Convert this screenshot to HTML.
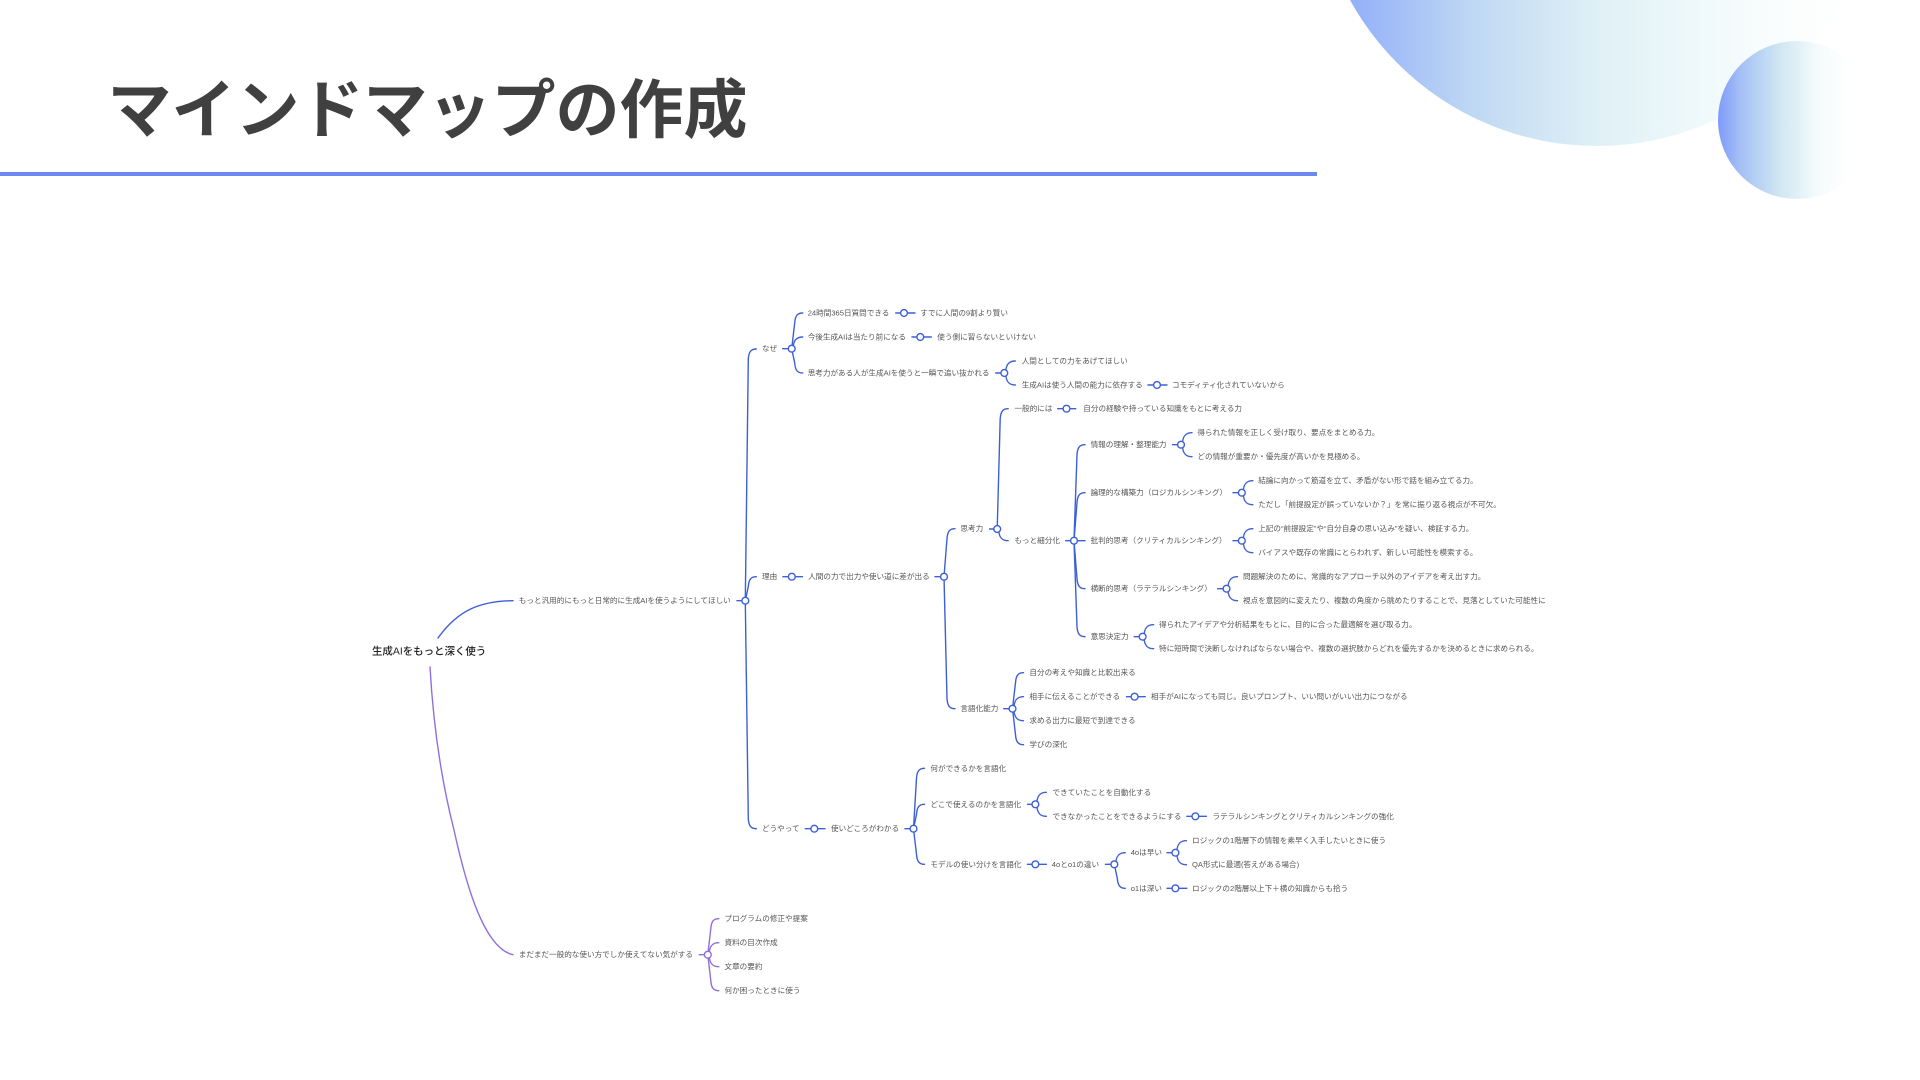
<!DOCTYPE html>
<html lang="ja">
<head>
<meta charset="utf-8">
<title>マインドマップの作成</title>
<style>
html,body{margin:0;padding:0;background:#fff}
body{width:1920px;height:1080px;overflow:hidden;position:relative}
svg{position:absolute;left:0;top:0;display:block}
text{font-family:"Liberation Sans","Noto Sans CJK JP",sans-serif}
.t{filter:blur(.25px)}
.t text{font-size:7.6px;fill:#555;dominant-baseline:central}
.b path{fill:none;stroke:#3d5fd6;stroke-width:1.4;stroke-linecap:round}
.b circle{fill:#fff;stroke:#3d5fd6;stroke-width:1.4}
.p path{fill:none;stroke:#8f6fdc;stroke-width:1.4;stroke-linecap:round}
.p circle{fill:#fff;stroke:#8f6fdc;stroke-width:1.4}
</style>
</head>
<body>
<svg width="1920" height="1080" viewBox="0 0 1920 1080" xmlns="http://www.w3.org/2000/svg">
<defs>
<linearGradient id="g1" gradientUnits="userSpaceOnUse" x1="1315" y1="0" x2="1879" y2="0">
<stop offset="0" stop-color="#86a4fb"/><stop offset=".28" stop-color="#bfd8f3"/><stop offset=".5" stop-color="#dff0f6"/><stop offset=".69" stop-color="#f0f9fb"/><stop offset=".85" stop-color="#fcfefe"/><stop offset="1" stop-color="#fff"/>
</linearGradient>
<linearGradient id="g2" gradientUnits="userSpaceOnUse" x1="1718" y1="0" x2="1876" y2="0">
<stop offset="0" stop-color="#7f9bfb"/><stop offset=".145" stop-color="#a5c0f5"/><stop offset=".386" stop-color="#cfe6f2"/><stop offset=".63" stop-color="#f5fbfc"/><stop offset=".84" stop-color="#fff"/>
</linearGradient>
</defs>

<circle cx="1597" cy="-136" r="282" fill="url(#g1)"/>
<circle cx="1797" cy="120" r="79" fill="url(#g2)"/>

<text x="107.5" y="132.5" font-size="64" font-weight="700" fill="#404040" style="font-family:'Noto Sans CJK JP',sans-serif">マインドマップの作成</text>
<rect x="0" y="172" width="1317" height="4" fill="#6a88ee"/>

<g class="b">
<path d="M438 638C458 610 480 601 513 600.7"/>
<!-- stubs and forks -->
<path d="M737 600.7H745.3"/>
<path d="M745.3 600.7l3-241.7c.5-7 2.5-10 8-10"/>
<path d="M745.3 600.7l3-14c.5-7 2.5-10 8-10"/>
<path d="M745.3 600.7l3 218c.5 7 2.5 10 8 10"/>

<path d="M782.7 348.7H791.7"/>
<path d="M791.7 348.7l3-25.7c.5-7 2.5-10 8-10"/>
<path d="M791.7 348.7l1.5-1.7c.5-7 3.5-10 9.5-10"/>
<path d="M791.7 348.7l3 14.3c.5 7 2.5 10 8 10"/>
<path d="M895.7 313H915"/>
<path d="M912 337H931.3"/>

<path d="M995.7 373H1004.3"/>
<path d="M1004.3 373l1.5-2c.5-7 3.5-10 9.5-10"/>
<path d="M1004.3 373l1.5 2c.5 7 3.5 10 9.5 10"/>
<path d="M1148 385H1167"/>

<path d="M782.9 576.7H802.4"/>
<path d="M935 576.7H944"/>
<path d="M944 576.7l3-38c.5-7 2.5-10 8-10"/>
<path d="M944 576.7l3 122c.5 7 2.5 10 8 10"/>

<path d="M989.6 529H997.2"/>
<path d="M997.2 529l3-110.3c.5-7 2.5-10 8-10"/>
<path d="M997.2 529l1.5 1.7c.5 7 3.5 10 9.5 10"/>
<path d="M1057.7 408.7H1075.7"/>

<path d="M1065.7 540.7H1085"/>
<path d="M1074 540.7l3-86c.5-7 2.5-10 8-10"/>
<path d="M1074 540.7l3-38c.5-7 2.5-10 8-10"/>
<path d="M1074 540.7l3 38c.5 7 2.5 10 8 10"/>
<path d="M1074 540.7l3 86c.5 7 2.5 10 8 10"/>

<path d="M1172.5 444.7H1181"/>
<path d="M1181 444.7l1.5-2c.5-7 3.5-10 9.5-10"/>
<path d="M1181 444.7l1.5 2c.5 7 3.5 10 9.5 10"/>

<path d="M1233 492.7H1241.8"/>
<path d="M1241.8 492.7l1.5-2c.5-7 3.5-10 9.5-10"/>
<path d="M1241.8 492.7l1.5 2c.5 7 3.5 10 9.5 10"/>

<path d="M1233 540.7H1241.8"/>
<path d="M1241.8 540.7l1.5-2c.5-7 3.5-10 9.5-10"/>
<path d="M1241.8 540.7l1.5 2c.5 7 3.5 10 9.5 10"/>

<path d="M1217.7 588.7H1226.5"/>
<path d="M1226.5 588.7l1.5-2c.5-7 3.5-10 9.5-10"/>
<path d="M1226.5 588.7l1.5 2c.5 7 3.5 10 9.5 10"/>

<path d="M1134.2 636.7H1142.6"/>
<path d="M1142.6 636.7l1.5-2c.5-7 3.5-10 9.5-10"/>
<path d="M1142.6 636.7l1.5 2c.5 7 3.5 10 9.5 10"/>

<path d="M1003.7 708.7H1012.5"/>
<path d="M1012.5 708.7l3-26c.5-7 2.5-10 8-10"/>
<path d="M1012.5 708.7l1.5-2c.5-7 3.5-10 9.5-10"/>
<path d="M1012.5 708.7l1.5 2c.5 7 3.5 10 9.5 10"/>
<path d="M1012.5 708.7l3 26c.5 7 2.5 10 8 10"/>
<path d="M1126.6 696.7H1145.3"/>

<path d="M805.3 828.7H825"/>
<path d="M905 828.7H913.5"/>
<path d="M913.5 828.7l3-50.4c.5-7 2.5-10 8-10"/>
<path d="M913.5 828.7l3-14.4c.5-7 2.5-10 8-10"/>
<path d="M913.5 828.7l3 25.6c.5 7 2.5 10 8 10"/>

<path d="M1027.5 804.3H1035.4"/>
<path d="M1035.4 804.3l1.5-2c.5-7 3.5-10 9.5-10"/>
<path d="M1035.4 804.3l1.5 2c.5 7 3.5 10 9.5 10"/>
<path d="M1186.8 816.3H1206.4"/>

<path d="M1027.5 864.3H1046.4"/>
<path d="M1105.4 864.3H1114.3"/>
<path d="M1114.3 864.3l1.5-1.6c.5-7 3.5-10 9.5-10"/>
<path d="M1114.3 864.3l3 14c.5 7 2.5 10 8 10"/>

<path d="M1167 852.7H1175.4"/>
<path d="M1175.4 852.7l1.5-2c.5-7 3.5-10 9.5-10"/>
<path d="M1175.4 852.7l1.5 2c.5 7 3.5 10 9.5 10"/>
<path d="M1167 888.3H1186.8"/>

<circle cx="745.3" cy="600.7" r="3.4"/>
<circle cx="791.7" cy="348.7" r="3.4"/>
<circle cx="904" cy="313" r="3.4"/>
<circle cx="920.3" cy="337" r="3.4"/>
<circle cx="1004.3" cy="373" r="3.4"/>
<circle cx="1157" cy="385" r="3.4"/>
<circle cx="791.8" cy="576.7" r="3.4"/>
<circle cx="944" cy="576.7" r="3.4"/>
<circle cx="997.2" cy="529" r="3.4"/>
<circle cx="1066.5" cy="408.7" r="3.4"/>
<circle cx="1074" cy="540.7" r="3.4"/>
<circle cx="1181" cy="444.7" r="3.4"/>
<circle cx="1241.8" cy="492.7" r="3.4"/>
<circle cx="1241.8" cy="540.7" r="3.4"/>
<circle cx="1226.5" cy="588.7" r="3.4"/>
<circle cx="1142.6" cy="636.7" r="3.4"/>
<circle cx="1012.5" cy="708.7" r="3.4"/>
<circle cx="1134.6" cy="696.7" r="3.4"/>
<circle cx="814.3" cy="828.7" r="3.4"/>
<circle cx="913.5" cy="828.7" r="3.4"/>
<circle cx="1035.4" cy="804.3" r="3.4"/>
<circle cx="1195.4" cy="816.3" r="3.4"/>
<circle cx="1035.4" cy="864.3" r="3.4"/>
<circle cx="1114.3" cy="864.3" r="3.4"/>
<circle cx="1175.4" cy="852.7" r="3.4"/>
<circle cx="1175.4" cy="888.3" r="3.4"/>
</g>

<g class="p">
<path d="M430 667C433 720 440 775 454 830C465 880 483 948 513 954.7"/>
<path d="M699.2 954.7H707.8"/>
<path d="M707.8 954.7l3-26c.5-7 2.5-10 8-10"/>
<path d="M707.8 954.7l1.5-2c.5-7 3.5-10 9.5-10"/>
<path d="M707.8 954.7l1.5 2c.5 7 3.5 10 9.5 10"/>
<path d="M707.8 954.7l3 26c.5 7 2.5 10 8 10"/>
<circle cx="707.8" cy="954.7" r="3.4"/>
</g>

<text x="372" y="652" font-size="10.45" font-weight="500" fill="#222" dominant-baseline="central">生成AIをもっと深く使う</text>

<g class="t">
<text x="518.8" y="600.7">もっと汎用的にもっと日常的に生成AIを使うようにしてほしい</text>
<text x="762" y="348.7">なぜ</text>
<text x="807.7" y="313">24時間365日質問できる</text>
<text x="920.3" y="313">すでに人間の9割より賢い</text>
<text x="807.7" y="337">今後生成AIは当たり前になる</text>
<text x="937.3" y="337">使う側に習らないといけない</text>
<text x="807.7" y="373">思考力がある人が生成AIを使うと一瞬で追い抜かれる</text>
<text x="1021.7" y="361">人間としての力をあげてほしい</text>
<text x="1021.7" y="385">生成AIは使う人間の能力に依存する</text>
<text x="1172" y="385">コモディティ化されていないから</text>

<text x="762" y="576.7">理由</text>
<text x="808.2" y="576.7">人間の力で出力や使い道に差が出る</text>
<text x="960.4" y="528.7">思考力</text>
<text x="1014.4" y="408.7">一般的には</text>
<text x="1083.3" y="408.7">自分の経験や持っている知識をもとに考える力</text>
<text x="1014.4" y="540.7">もっと細分化</text>

<text x="1090.6" y="444.7">情報の理解・整理能力</text>
<text x="1197.4" y="432.7">得られた情報を正しく受け取り、要点をまとめる力。</text>
<text x="1197.4" y="456.7">どの情報が重要か・優先度が高いかを見極める。</text>

<text x="1090.6" y="492.7">論理的な構築力（ロジカルシンキング）</text>
<text x="1258.2" y="480.7">結論に向かって筋道を立て、矛盾がない形で話を組み立てる力。</text>
<text x="1258.2" y="504.7">ただし「前提設定が誤っていないか？」を常に振り返る視点が不可欠。</text>

<text x="1090.6" y="540.7">批判的思考（クリティカルシンキング）</text>
<text x="1258.2" y="528.7">上記の“前提設定”や“自分自身の思い込み”を疑い、検証する力。</text>
<text x="1258.2" y="552.7">バイアスや既存の常識にとらわれず、新しい可能性を模索する。</text>

<text x="1090.6" y="588.7">横断的思考（ラテラルシンキング）</text>
<text x="1243" y="576.7">問題解決のために、常識的なアプローチ以外のアイデアを考え出す力。</text>
<text x="1243" y="600.7">視点を意図的に変えたり、複数の角度から眺めたりすることで、見落としていた可能性に</text>

<text x="1090.6" y="636.7">意思決定力</text>
<text x="1159" y="624.7">得られたアイデアや分析結果をもとに、目的に合った最適解を選び取る力。</text>
<text x="1159" y="648.7">特に短時間で決断しなければならない場合や、複数の選択肢からどれを優先するかを決めるときに求められる。</text>

<text x="960.4" y="708.7">言語化能力</text>
<text x="1029.4" y="672.7">自分の考えや知識と比較出来る</text>
<text x="1029.4" y="696.7">相手に伝えることができる</text>
<text x="1151" y="696.7">相手がAIになっても同じ。良いプロンプト、いい問いがいい出力につながる</text>
<text x="1029.4" y="720.7">求める出力に最短で到達できる</text>
<text x="1029.4" y="744.7">学びの深化</text>

<text x="762" y="828.7">どうやって</text>
<text x="831" y="828.7">使いどころがわかる</text>
<text x="930.4" y="768.3">何ができるかを言語化</text>
<text x="930.4" y="804.3">どこで使えるのかを言語化</text>
<text x="1052.5" y="792.3">できていたことを自動化する</text>
<text x="1052.5" y="816.3">できなかったことをできるようにする</text>
<text x="1212.5" y="816.3">ラテラルシンキングとクリティカルシンキングの強化</text>
<text x="930.4" y="864.3">モデルの使い分けを言語化</text>
<text x="1051.8" y="864.3">4oとo1の違い</text>
<text x="1130.7" y="852.7">4oは早い</text>
<text x="1192" y="840.7">ロジックの1階層下の情報を素早く入手したいときに使う</text>
<text x="1192" y="864.7">QA形式に最適(答えがある場合)</text>
<text x="1130.7" y="888.3">o1は深い</text>
<text x="1192" y="888.3">ロジックの2階層以上下＋横の知識からも拾う</text>

<text x="518.8" y="954.7">まだまだ一般的な使い方でしか使えてない気がする</text>
<text x="724.5" y="918.7">プログラムの修正や提案</text>
<text x="724.5" y="942.7">資料の目次作成</text>
<text x="724.5" y="966.7">文章の要約</text>
<text x="724.5" y="990.7">何か困ったときに使う</text>
</g>
</svg>
</body>
</html>
